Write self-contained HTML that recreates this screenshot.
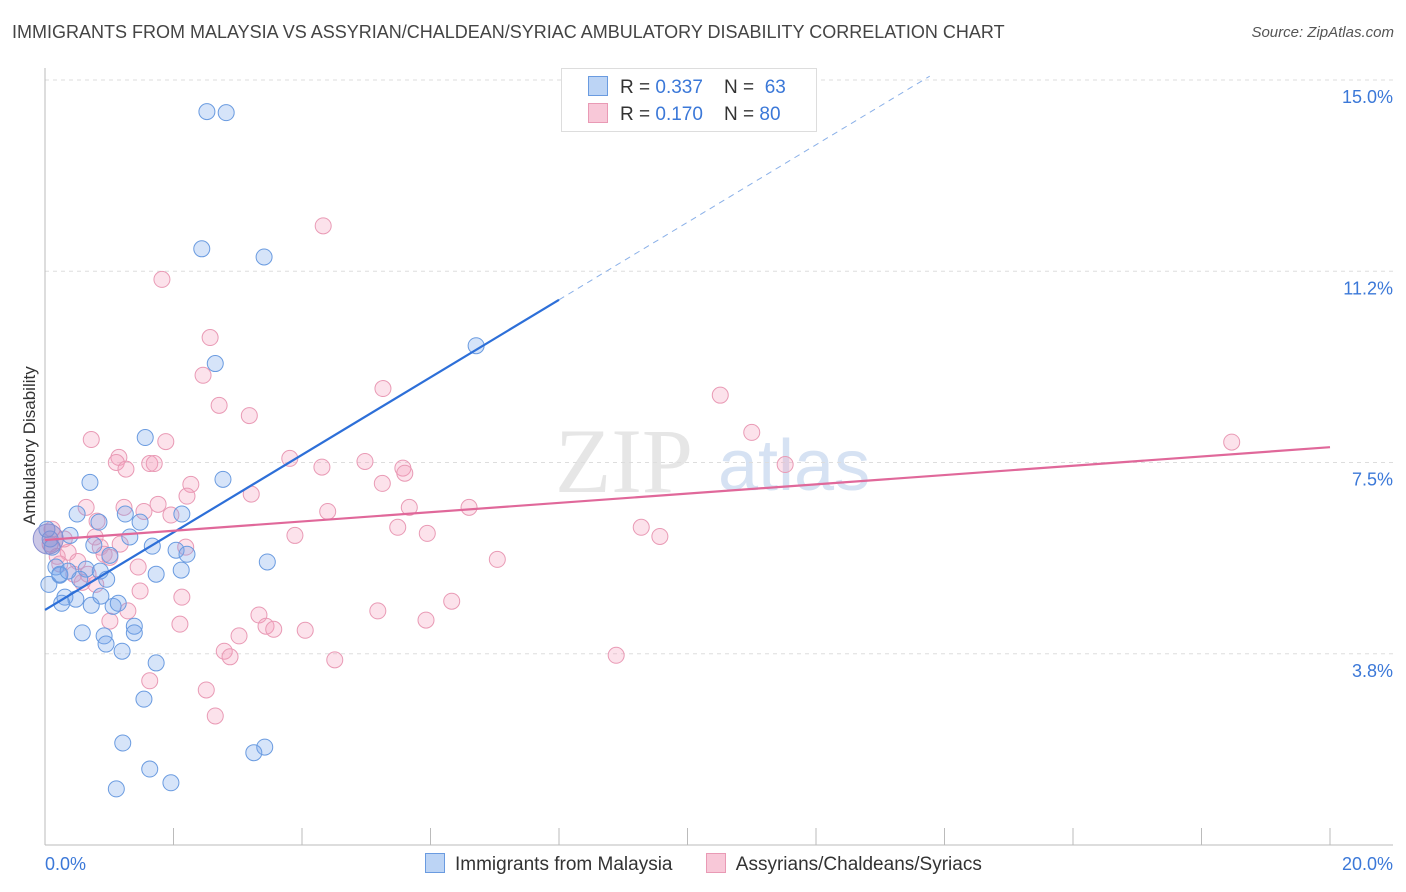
<!DOCTYPE html>
<html><head><meta charset="utf-8"><style>
body{margin:0;background:#fff;font-family:"Liberation Sans",sans-serif;}
#wrap{position:relative;width:1406px;height:892px;overflow:hidden;}
.t{position:absolute;white-space:nowrap}
</style></head><body>
<div id="wrap">
<div class="t" style="left:12px;top:22px;font-size:18px;color:#444">IMMIGRANTS FROM MALAYSIA VS ASSYRIAN/CHALDEAN/SYRIAC AMBULATORY DISABILITY CORRELATION CHART</div>
<div class="t" style="right:12px;top:24px;font-size:15px;color:#555;font-style:italic">Source: ZipAtlas.com</div>
<div class="t" style="left:-40px;top:445px;font-size:17px;color:#333;transform:rotate(-90deg);width:140px;text-align:center">Ambulatory Disability</div>
<svg id="plot" width="1406" height="892" style="position:absolute;left:0;top:0"></svg>
</div>
<script>
const blueX=[2.52,2.82,2.44,3.41,6.71,2.65,1.56,0.70,2.77,0.50,1.25,2.13,0.84,1.48,0.39,1.32,1.67,2.04,2.21,1.01,0.76,3.46,0.17,0.64,0.86,0.96,1.73,2.12,0.23,0.54,0.06,0.31,0.48,0.72,1.06,1.14,0.87,0.26,0.58,0.92,1.39,1.39,0.95,1.20,1.73,1.54,1.21,1.63,1.96,1.11,3.42,3.25,0.08,0.11,0.23,0.36,0.03];
const blueY=[14.38,14.36,11.69,11.53,9.79,9.44,7.99,7.11,7.17,6.49,6.49,6.49,6.33,6.33,6.07,6.04,5.86,5.78,5.70,5.68,5.88,5.55,5.45,5.41,5.37,5.21,5.31,5.39,5.29,5.21,5.11,4.86,4.82,4.70,4.68,4.74,4.88,4.74,4.16,4.10,4.29,4.16,3.94,3.80,3.57,2.86,2.00,1.49,1.22,1.10,1.92,1.81,6.00,5.84,5.31,5.37,6.19];
const pinkX=[4.33,1.82,2.57,2.46,5.26,2.71,3.18,10.51,11.00,0.72,1.88,1.15,1.63,1.70,1.11,1.26,3.81,4.98,4.31,5.57,5.60,11.52,18.47,2.27,5.25,3.21,2.21,1.23,1.76,1.54,1.96,4.40,5.67,6.60,0.64,0.81,5.49,9.28,9.57,3.89,5.95,0.78,0.86,2.19,0.92,0.36,0.19,7.04,1.01,1.45,0.45,0.08,0.23,0.58,2.13,1.48,1.29,3.33,3.44,3.56,4.05,5.18,6.33,5.93,2.10,1.01,3.02,2.79,2.88,4.51,8.89,1.63,2.51,2.65,0.11,0.30,0.67,1.17,0.51,0.79];
const pinkY=[12.14,11.09,9.95,9.21,8.95,8.62,8.42,8.82,8.09,7.95,7.91,7.60,7.48,7.48,7.50,7.37,7.58,7.52,7.41,7.39,7.29,7.46,7.90,7.07,7.09,6.88,6.84,6.62,6.68,6.54,6.47,6.54,6.62,6.62,6.62,6.35,6.23,6.23,6.05,6.07,6.11,6.04,5.84,5.84,5.70,5.74,5.66,5.60,5.64,5.45,5.31,5.90,5.51,5.15,4.86,4.98,4.59,4.51,4.29,4.23,4.21,4.59,4.78,4.41,4.33,4.39,4.10,3.80,3.69,3.63,3.72,3.22,3.04,2.53,6.19,6.00,5.31,5.90,5.56,5.11];
const yTicks=[15,11.25,7.5,3.75];
const yTickLabels=["15.0%","11.2%","7.5%","3.8%"];
const xTicks=[0,2,4,6,8,10,12,14,16,18,20];
const blueTrend=[4.61,0.76]; // intercept, slope
const pinkTrend=[5.98,0.091];
const X=v=>45+v*64.25, Y=v=>845-v*51;
const svg=document.getElementById('plot');const NS='http://www.w3.org/2000/svg';
function mk(tag,at,parent){const e=document.createElementNS(NS,tag);for(const k in at)e.setAttribute(k,at[k]);(parent||svg).appendChild(e);return e;}
// watermark
let wm=mk('text',{x:555,y:492,'font-size':92,fill:'#e6e6e6','font-family':'Liberation Serif'});wm.textContent='ZIP';


let wm2=mk('text',{x:718,y:490,'font-size':72,fill:'#d6e2f3','font-family':'Liberation Sans'});wm2.textContent='atlas';


yTicks.forEach((t,i)=>{
 const g=mk('line',{x1:45,x2:1393,y1:Y(t),y2:Y(t),stroke:'#ddd','stroke-dasharray':'4,4'});
 
 
 const l=mk('text',{x:1393,y:Y(t)+23,'text-anchor':'end','font-size':18,fill:'#3b78d8'});l.textContent=yTickLabels[i];
 
 
});
let ax=mk('line',{x1:45,x2:45,y1:68,y2:845,stroke:'#bbb'});


let bx=mk('line',{x1:45,x2:1393,y1:845,y2:845,stroke:'#bbb'});


xTicks.forEach(t=>{const k=mk('line',{x1:X(t),x2:X(t),y1:828,y2:845,stroke:'#bbb'});
 
 });
[[0,'0.0%','start',45],[20,'20.0%','end',1393]].forEach(a=>{const l=mk('text',{x:a[3],y:870,'text-anchor':a[2],'font-size':18,fill:'#3b78d8'});l.textContent=a[1];
 
 });
function pts(xs,ys,fill,stroke,name){xs.forEach((x,i)=>{const c=mk('circle',{cx:X(x),cy:Y(ys[i]),r:8,fill:fill,stroke:stroke,'stroke-width':1});
 
 });}
pts(pinkX,pinkY,'rgba(244,160,188,0.3)','#e99ab5','pink-point');
pts(blueX,blueY,'rgba(120,165,235,0.3)','#6a9be0','blue-point');
let bc=mk('circle',{cx:X(0.05),cy:Y(6.0),r:15,fill:'rgba(140,130,200,0.45)',stroke:'#8a8fd0'});


let bl=mk('line',{x1:X(0),y1:Y(blueTrend[0]),x2:X(8),y2:Y(blueTrend[0]+8*blueTrend[1]),stroke:'#2d6fd8','stroke-width':2.2});


let bd=mk('line',{x1:X(8),y1:Y(blueTrend[0]+8*blueTrend[1]),x2:X(13.77),y2:Y(blueTrend[0]+13.77*blueTrend[1]),stroke:'#8ab0e8','stroke-width':1,'stroke-dasharray':'6,5'});


let pl=mk('line',{x1:X(0),y1:Y(pinkTrend[0]),x2:X(20),y2:Y(pinkTrend[0]+20*pinkTrend[1]),stroke:'#e0689a','stroke-width':2.2});


</script>
<div class="t" style="left:561px;top:68px;width:254px;height:62px;border:1px solid #ddd;background:#fff;font-size:19px;color:#333">
 <div style="position:absolute;left:26px;top:7px"><span style="display:inline-block;width:18px;height:18px;background:#bcd4f5;border:1px solid #6a9be0;vertical-align:-3px;margin-right:12px"></span>R = <span style="color:#3b78d8">0.337</span>&nbsp;&nbsp;&nbsp; N = <span style="color:#3b78d8">&nbsp;63</span></div>
 <div style="position:absolute;left:26px;top:34px"><span style="display:inline-block;width:18px;height:18px;background:#f8c8d8;border:1px solid #e99ab5;vertical-align:-3px;margin-right:12px"></span>R = <span style="color:#3b78d8">0.170</span>&nbsp;&nbsp;&nbsp; N = <span style="color:#3b78d8">80</span></div>
</div>
<div class="t" style="left:425px;top:853px;font-size:19px;color:#333">
 <span><span style="display:inline-block;width:18px;height:18px;background:#bcd4f5;border:1px solid #6a9be0;vertical-align:-3px;margin-right:10px"></span>Immigrants from Malaysia</span>
 <span style="margin-left:28px"><span style="display:inline-block;width:18px;height:18px;background:#f8c8d8;border:1px solid #e99ab5;vertical-align:-3px;margin-right:10px"></span>Assyrians/Chaldeans/Syriacs</span>
</div>
</body></html>
